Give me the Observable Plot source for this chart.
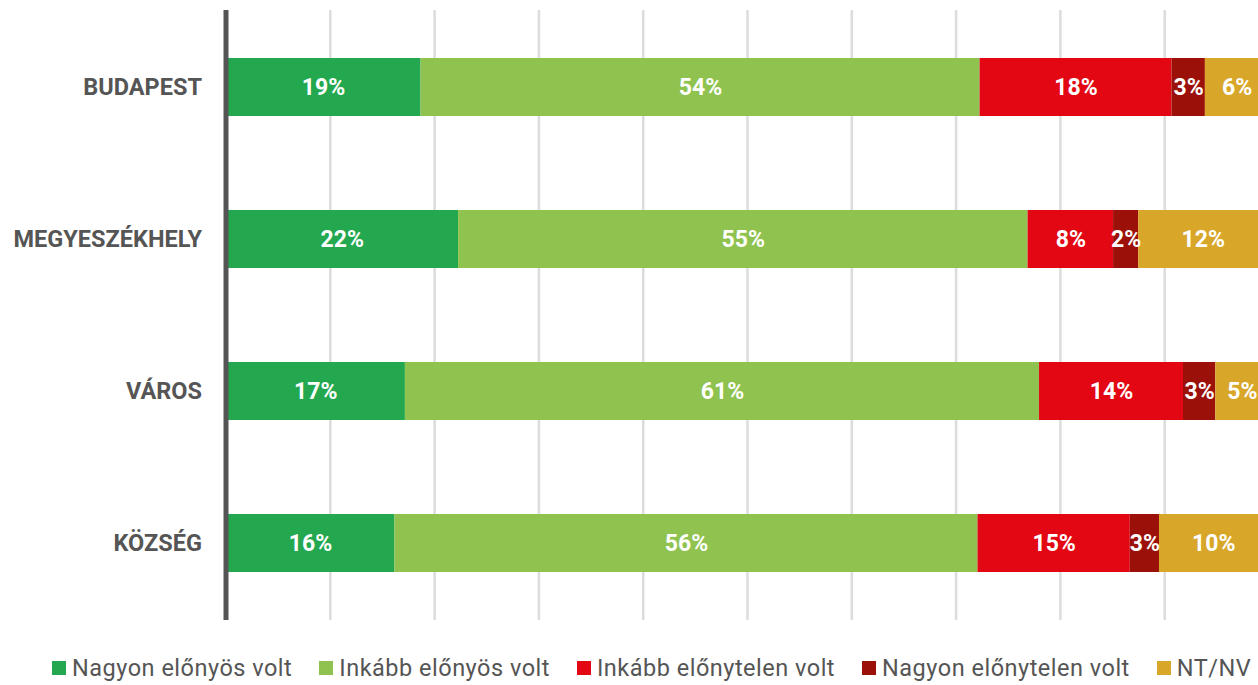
<!DOCTYPE html>
<html>
<head>
<meta charset="utf-8">
<script src="https://cdn.jsdelivr.net/npm/d3@7"></script>
<script src="https://cdn.jsdelivr.net/npm/@observablehq/plot@0.6"></script>
<style>
  html, body { margin: 0; padding: 0; background: #fff; overflow: hidden; width: 1258px; height: 685px; }
  #chart svg { overflow: hidden; }
  .legend { display: flex; align-items: center; margin-left: 52px; margin-top: 24px; font-family: Roboto, sans-serif; font-size: 23.5px; line-height: 28px; letter-spacing: 0.5px; color: #555; white-space: nowrap; }
  .legend .item { display: flex; align-items: center; margin-right: 27px; }
  .legend .sw { width: 14px; height: 14px; margin-right: 6px; }
</style>
</head>
<body>
<div id="chart"></div>
<div class="legend" id="legend"></div>
<script>
const categories = ["BUDAPEST", "MEGYESZÉKHELY", "VÁROS", "KÖZSÉG"];
const series = ["Nagyon előnyös volt", "Inkább előnyös volt", "Inkább előnytelen volt", "Nagyon előnytelen volt", "NT/NV"];
const colors = ["#24a84f", "#8fc24f", "#e30613", "#9b1009", "#d8a629"];

// measured segment widths (%)
const budapestValues = [18.7, 53.6, 18.4, 3.2, 6.1];
const megyeszekhelyValues = [22.3, 54.6, 8.2, 2.4, 12.4];
const varosValues = [17.2, 60.8, 13.8, 3.1, 5.1];
const kozsegValues = [16.2, 55.9, 14.6, 2.8, 10.4];

// printed labels (%)
const budapestLabels = [19, 54, 18, 3, 6];
const megyeszekhelyLabels = [22, 55, 8, 2, 12];
const varosLabels = [17, 61, 14, 3, 5];
const kozsegLabels = [16, 56, 15, 3, 10];

const gridTicks = [10, 20, 30, 40, 50, 60, 70, 80, 90];

const valueRows = [budapestValues, megyeszekhelyValues, varosValues, kozsegValues];
const labelRows = [budapestLabels, megyeszekhelyLabels, varosLabels, kozsegLabels];

const data = categories.flatMap((c, i) =>
  series.map((s, j) => ({category: c, series: s, value: valueRows[i][j], label: labelRows[i][j] + "%"}))
);

const chart = Plot.plot({
  width: 1258,
  height: 630,
  marginLeft: 0,
  marginRight: 0,
  marginTop: 10,
  marginBottom: 10,
  style: {fontFamily: "Roboto, sans-serif", background: "#fff", overflow: "hidden"},
  x: {domain: [0, 100], range: [225.5, 1268.5], axis: null},
  y: {domain: categories, paddingInner: 0.62, paddingOuter: 0.31, axis: null},
  color: {domain: series, range: colors},
  marks: [
    Plot.ruleX(gridTicks, {stroke: "#dcdcdc", strokeWidth: 2.5}),
    Plot.barX(data, Plot.stackX({x: "value", y: "category", fill: "series"})),
    Plot.text(data, Plot.stackX({x: "value", y: "category", text: "label", fill: "white", fontSize: 23, fontWeight: "bold"})),
    Plot.ruleX([0], {stroke: "#555", strokeWidth: 5}),
    Plot.text(categories, {x: 0, y: d => d, text: d => d, dx: -24, textAnchor: "end", fill: "#555", fontSize: 23.5, fontWeight: "bold", letterSpacing: "0.4px"})
  ]
});
document.getElementById("chart").appendChild(chart);

const legend = document.getElementById("legend");
series.forEach((s, i) => {
  const item = document.createElement("div");
  item.className = "item";
  const sw = document.createElement("div");
  sw.className = "sw";
  sw.style.background = colors[i];
  const t = document.createElement("span");
  t.textContent = s;
  item.appendChild(sw);
  item.appendChild(t);
  legend.appendChild(item);
});
</script>
</body>
</html>
